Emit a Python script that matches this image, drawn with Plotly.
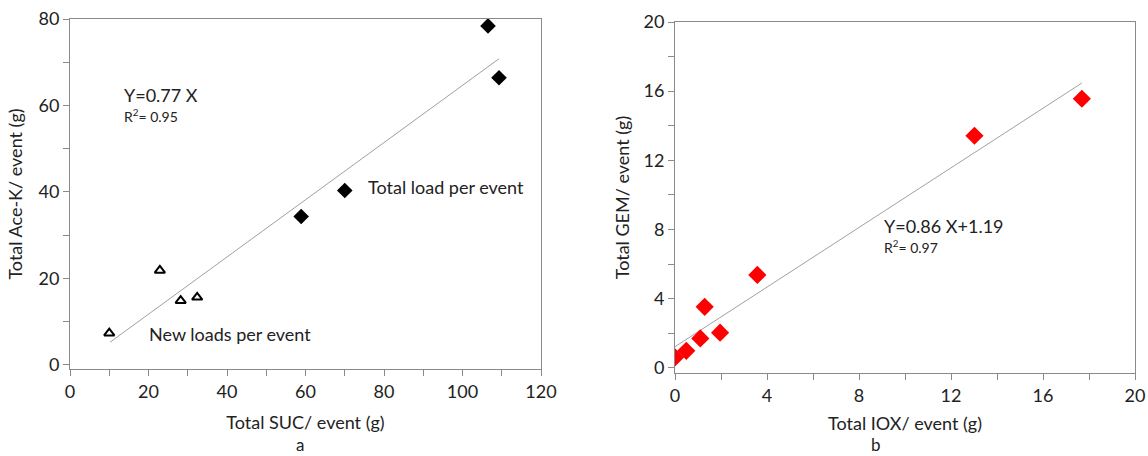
import plotly.graph_objects as go

# Panel a data
new_suc = [10.0, 22.9, 28.2, 32.4]
new_acek = [7.3, 21.8, 14.8, 15.6]
tot_suc = [58.9, 70.0, 106.5, 109.3]
tot_acek = [34.3, 40.3, 78.4, 66.4]
trend_a_x = [10.2, 109.3]
trend_a_y = [5.2, 70.8]

# Panel b data
iox = [0.0, 0.49, 1.1, 1.29, 1.96, 3.58, 13.02, 17.69]
gem = [0.6, 0.98, 1.7, 3.53, 2.03, 5.37, 13.42, 15.56]
trend_b_x = [0.0, 17.69]
trend_b_y = [1.22, 16.47]

xa_vals = list(range(0, 121, 10))
xa_text = [str(v) if v % 20 == 0 else "" for v in xa_vals]
ya_vals = list(range(0, 81, 10))
ya_text = [str(v) if v % 20 == 0 else "" for v in ya_vals]
xb_vals = list(range(0, 21, 2))
xb_text = [str(v) if v % 4 == 0 else "" for v in xb_vals]
yb_vals = list(range(0, 21, 2))
yb_text = [str(v) if v % 4 == 0 else "" for v in yb_vals]

FONT = "Lato, Open Sans, sans-serif"
AX = "#8a8a8a"

L, R, T, B = 70, 11, 19, 83
PW = 1148 - L - R
PH = 456 - T - B

def px_x(p):
    return (p - L) / PW

def px_y(p):
    return (456 - B - p) / PH

fig = go.Figure()
fig.add_trace(go.Scatter(x=trend_a_x, y=trend_a_y, mode="lines",
                         line=dict(color="#a0a0a0", width=1), xaxis="x", yaxis="y"))
fig.add_trace(go.Scatter(x=new_suc, y=new_acek, mode="markers",
                         marker=dict(symbol="triangle-up-open", size=9, color="black",
                                     line=dict(width=2, color="black")), xaxis="x", yaxis="y"))
fig.add_trace(go.Scatter(x=tot_suc, y=tot_acek, mode="markers",
                         marker=dict(symbol="diamond", size=12, color="black"), xaxis="x", yaxis="y"))
fig.add_trace(go.Scatter(x=trend_b_x, y=trend_b_y, mode="lines",
                         line=dict(color="#a0a0a0", width=1), xaxis="x2", yaxis="y2"))
fig.add_trace(go.Scatter(x=iox, y=gem, mode="markers",
                         marker=dict(symbol="diamond", size=14, color="#ff0000"), xaxis="x2", yaxis="y2"))

def axis(domain, rng, vals, text, anchor, title, standoff):
    return dict(domain=domain, range=rng, tickvals=vals, ticktext=text, anchor=anchor,
                showline=True, linecolor=AX, linewidth=1, mirror=True, ticks="outside",
                ticklen=6, tickcolor=AX, showgrid=False, zeroline=False, automargin=False,
                tickfont=dict(size=18, color="#222", family=FONT),
                title=dict(text=title, font=dict(size=18, color="#222", family=FONT), standoff=standoff))

fig.update_layout(
    width=1148, height=456, margin=dict(l=L, r=R, t=T, b=B),
    plot_bgcolor="white", paper_bgcolor="white", showlegend=False,
    xaxis=axis([px_x(70), px_x(541)], [0, 120], xa_vals, xa_text, "y", "Total SUC/ event (g)", 15),
    yaxis=axis([px_y(369), px_y(19)], [-1, 80], ya_vals, ya_text, "x", "Total Ace-K/ event (g)", 11),
    xaxis2=axis([px_x(675), px_x(1135)], [0, 20], xb_vals, xb_text, "y2", "Total IOX/ event (g)", 12),
    yaxis2=axis([px_y(373), px_y(22)], [-0.3, 20], yb_vals, yb_text, "x2", "Total GEM/ event (g)", 9),
)

def ann(x, y, text, xref, yref, size, xanchor="left"):
    fig.add_annotation(x=x, y=y, xref=xref, yref=yref, text=text, showarrow=False,
                       xanchor=xanchor, yanchor="middle",
                       font=dict(size=size, color="#222", family=FONT))

ann(13.3, 62.4, "Y=0.77 X", "x", "y", 18)
ann(13.3, 57.6, "R<sup>2</sup>= 0.95", "x", "y", 14)
ann(75.3, 41.2, "Total load per event", "x", "y", 18)
ann(19.5, 7.0, "New loads per event", "x", "y", 18)
ann(9.0, 8.2, "Y=0.86 X+1.19", "x2", "y2", 18)
ann(9.0, 7.0, "R<sup>2</sup>= 0.97", "x2", "y2", 14)
ann(px_x(300), px_y(445), "a", "paper", "paper", 17, "center")
ann(px_x(876), px_y(445), "b", "paper", "paper", 17, "center")

fig.write_html("out.html", config={"displayModeBar": False},
               post_script="document.body.style.margin='0';document.body.style.overflow='hidden';")
